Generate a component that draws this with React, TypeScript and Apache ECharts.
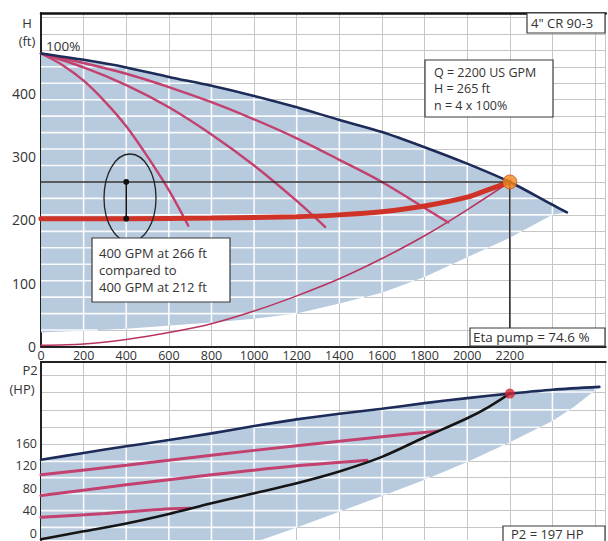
import React, { useEffect, useRef } from "react";
import * as echarts from "echarts";

const FONT = "'Open Sans', 'Noto Sans', sans-serif";
const TXT = "#333333";

// ---- axis ticks / grid values ----
const flowLabels = [0, 200, 400, 600, 800, 1000, 1200, 1400, 1600, 1800, 2000, 2200];
const flowGridLines = [200, 400, 600, 800, 1000, 1200, 1400, 1600, 1800, 2000, 2200, 2400, 2600];
const headLabels = [0, 100, 200, 300, 400];
const headGridLines = [26, 52, 78, 104, 130, 156, 182, 208, 234, 260, 286, 312, 338, 364, 390, 416, 442, 468, 494, 520];
const powerLabels = [0, 40, 80, 120, 160];
const powerGridLines = [10, 40, 70, 99, 128, 158, 189, 220, 252, 282];

// ---- top chart: head H (ft) vs flow Q (US GPM) ----
const pump1Head = [[0, 463], [100, 445], [200, 420], [300, 387], [400, 348], [500, 300], [600, 247], [691, 191]];
const pump2Head = [[0, 463], [200, 441], [400, 413], [600, 378], [800, 335], [1000, 286], [1200, 230], [1333, 189]];
const pump3Head = [[0, 463], [200, 448], [400, 431], [600, 410], [800, 386], [1000, 359], [1200, 329], [1400, 295], [1600, 260], [1800, 219], [1911, 196]];
const pump4Head = [[0, 463], [200, 453], [400, 441], [600, 426], [800, 412], [1000, 396], [1200, 378], [1400, 358], [1600, 339], [1800, 315], [2000, 289], [2200, 260], [2400, 224], [2468, 212]];
const controlHead = [[0, 202], [400, 202], [800, 203], [1200, 205], [1400, 208], [1600, 213], [1800, 222], [2000, 236], [2100, 248], [2200, 260]];
const systemHead = [[0, 2], [200, 4], [400, 11], [600, 22], [800, 36], [1000, 56], [1200, 80], [1400, 107], [1600, 139], [1800, 175], [2000, 216], [2200, 260]];
const shadeHeadLower = [[0, 22], [400, 28], [800, 38], [1000, 44], [1200, 52], [1400, 68], [1600, 85], [1800, 110], [2000, 141], [2200, 172], [2400, 208], [2468, 212]];
const dutyFlow = 2200;
const dutyHead = 260;
const compareFlow = 400;
const compareHeads = [260, 202];

// ---- bottom chart: power P2 (HP) vs flow ----
const pump4Power = [[0, 131], [200, 143], [400, 155], [600, 166], [800, 178], [1000, 191], [1200, 203], [1400, 213], [1600, 222], [1800, 232], [2000, 241], [2200, 249], [2400, 256], [2620, 261]];
const systemPower = [[0, -11], [200, 3], [400, 17], [600, 34], [800, 53], [1000, 71], [1200, 89], [1400, 110], [1600, 136], [1800, 171], [2000, 205], [2100, 225], [2200, 249]];
const pump3Power = [[0, 104], [400, 121], [800, 139], [1200, 156], [1600, 172], [1860, 182]];
const pump2Power = [[0, 67], [400, 86], [800, 104], [1200, 120], [1530, 130]];
const pump1Power = [[0, 28], [300, 35], [560, 42], [700, 44]];
const shadePowerLower = [[0, -13], [1030, -13], [1200, 10], [1400, 38], [1600, 66], [1800, 95], [2000, 127], [2200, 162], [2400, 200], [2500, 225], [2620, 261]];
const dutyPower = 249;

const SHADE = "#b8cadd";
const NAVY = "#1c2b57";
const PINK = "#c2416f";
const RED = "#cf3327";
const GRIDGRAY = "#c6c6c6";

function shadeRenderer(upper: number[][], lower: number[][], xg: number[], yg: number[]) {
  return (_params: any, api: any) => {
    const pts: number[][] = [
      ...upper.map((p) => api.coord(p)),
      ...lower.slice().reverse().map((p) => api.coord(p)),
    ];
    const n = pts.length;
    const children: any[] = [
      { type: "polygon", shape: { points: pts }, style: { fill: SHADE } },
    ];
    const xs = xg.map((v) => api.coord([v, 0])[0]);
    const ys = yg.map((v) => api.coord([0, v])[1]);
    for (const c of xs) {
      const hits: number[] = [];
      for (let i = 0; i < n; i++) {
        const [x1, y1] = pts[i];
        const [x2, y2] = pts[(i + 1) % n];
        if ((x1 <= c && c < x2) || (x2 <= c && c < x1)) hits.push(y1 + ((c - x1) * (y2 - y1)) / (x2 - x1));
      }
      hits.sort((a, b) => a - b);
      for (let k = 0; k + 1 < hits.length; k += 2)
        children.push({ type: "line", shape: { x1: c, y1: hits[k], x2: c, y2: hits[k + 1] }, style: { stroke: "#ffffff", lineWidth: 1.6, opacity: 0.9 } });
    }
    for (const c of ys) {
      const hits: number[] = [];
      for (let i = 0; i < n; i++) {
        const [x1, y1] = pts[i];
        const [x2, y2] = pts[(i + 1) % n];
        if ((y1 <= c && c < y2) || (y2 <= c && c < y1)) hits.push(x1 + ((c - y1) * (x2 - x1)) / (y2 - y1));
      }
      hits.sort((a, b) => a - b);
      for (let k = 0; k + 1 < hits.length; k += 2)
        children.push({ type: "line", shape: { x1: hits[k], y1: c, x2: hits[k + 1], y2: c }, style: { stroke: "#ffffff", lineWidth: 1.6, opacity: 0.9 } });
    }
    return { type: "group", children };
  };
}

function curve(data: number[][], xi: number, yi: number, color: string, width: number, z = 3, smooth: any = 0.3) {
  return {
    type: "line", xAxisIndex: xi, yAxisIndex: yi, data, symbol: "none", smooth,
    lineStyle: { color, width, cap: "round" }, z, silent: true,
  };
}

function box(x: number, y: number, w: number, h: number, lines: string, fs: number, tx: number, lh: number, ty?: number) {
  return [
    { type: "rect", z: 100, shape: { x, y, width: w, height: h }, style: { fill: "#ffffff", stroke: "#3a3a3a", lineWidth: 1.2 } },
    { type: "text", z: 101, x: x + tx, y: ty !== undefined ? ty : y + h / 2, style: { text: lines, fontSize: fs, fontFamily: FONT, fill: TXT, verticalAlign: "middle", lineHeight: lh } },
  ];
}

const XMAX = 2650;

const option: any = {
  animation: false,
  grid: [
    { left: 41, top: 13, width: 564.7, height: 333.5, show: false },
    { left: 41, top: 362, width: 564.7, height: 179, show: false },
  ],
  xAxis: [
    {
      gridIndex: 0, type: "value", min: 0, max: XMAX, interval: 200, position: "bottom",
      axisLine: { show: true, lineStyle: { color: "#222", width: 2 } },
      axisTick: { show: false },
      axisLabel: { customValues: flowLabels, formatter: (v: number) => String(v), fontSize: 12.5, fontFamily: FONT, color: TXT, margin: 2 },
      splitLine: { show: true, lineStyle: { color: GRIDGRAY, width: 1 } },
    },
    {
      gridIndex: 0, type: "value", min: 0, max: XMAX, position: "top",
      axisLine: { show: true, lineStyle: { color: "#111", width: 2.5 } },
      axisTick: { show: false }, axisLabel: { show: false }, splitLine: { show: false },
    },
    {
      gridIndex: 1, type: "value", min: 0, max: XMAX, interval: 200, position: "bottom",
      axisLine: { show: false }, axisTick: { show: false }, axisLabel: { show: false },
      splitLine: { show: true, lineStyle: { color: GRIDGRAY, width: 1 } },
    },
    {
      gridIndex: 1, type: "value", min: 0, max: XMAX, position: "top",
      axisLine: { show: true, lineStyle: { color: "#222", width: 2 } },
      axisTick: { show: false }, axisLabel: { show: false }, splitLine: { show: false },
    },
  ],
  yAxis: [
    {
      gridIndex: 0, type: "value", min: 0, max: 527,
      axisLine: { show: true, lineStyle: { color: "#222", width: 2 } },
      axisTick: { show: false, customValues: headGridLines },
      axisLabel: { customValues: headLabels, fontSize: 14, fontFamily: FONT, color: TXT, margin: 5 },
      splitLine: { show: true, lineStyle: { color: GRIDGRAY, width: 1 } },
    },
    {
      gridIndex: 1, type: "value", min: -12.43, max: 305.5,
      axisLine: { show: true, lineStyle: { color: "#222", width: 2 } },
      axisTick: { show: false, customValues: powerGridLines },
      axisLabel: { customValues: powerLabels, fontSize: 12.5, fontFamily: FONT, color: TXT, margin: 4, lineHeight: 13, padding: [0, 0, 3, 0] },
      splitLine: { show: true, lineStyle: { color: GRIDGRAY, width: 1 } },
    },
  ],
  series: [
    {
      type: "custom", xAxisIndex: 0, yAxisIndex: 0, data: [[0, 0]], clip: true, silent: true, z: 1,
      renderItem: shadeRenderer(pump4Head, shadeHeadLower, flowGridLines, headGridLines),
    },
    curve(systemHead, 0, 0, "#b8345e", 1.6, 3),
    curve(pump1Head, 0, 0, PINK, 2.4, 3),
    curve(pump2Head, 0, 0, PINK, 2.4, 3),
    curve(pump3Head, 0, 0, PINK, 2.4, 3),
    curve(controlHead, 0, 0, RED, 5, 4),
    curve(pump4Head, 0, 0, NAVY, 2.6, 5),
    {
      type: "line", xAxisIndex: 0, yAxisIndex: 0, symbol: "none", silent: true, z: 6,
      data: [[0, dutyHead], [dutyFlow, dutyHead], [dutyFlow, 0]],
      lineStyle: { color: "#2b2b2b", width: 1.5 },
    },
    {
      type: "line", xAxisIndex: 0, yAxisIndex: 0, symbol: "circle", symbolSize: 6, showSymbol: true, silent: true, z: 7,
      data: compareHeads.map((h) => [compareFlow, h]),
      lineStyle: { color: "#111", width: 1.5 }, itemStyle: { color: "#111" },
    },
    {
      type: "scatter", xAxisIndex: 0, yAxisIndex: 0, symbolSize: 14, silent: true, z: 8,
      data: [[dutyFlow, dutyHead]],
      itemStyle: { color: "#f28a1e", borderColor: "#c8501a", borderWidth: 1 },
    },
    {
      type: "custom", xAxisIndex: 2, yAxisIndex: 1, data: [[0, 0]], clip: true, silent: true, z: 1,
      renderItem: shadeRenderer(pump4Power, shadePowerLower, flowGridLines, powerGridLines),
    },
    curve(pump1Power, 2, 1, PINK, 3, 3),
    curve(pump2Power, 2, 1, PINK, 3, 3),
    curve(pump3Power, 2, 1, PINK, 3, 3),
    curve(pump4Power, 2, 1, NAVY, 2.6, 5),
    curve(systemPower, 2, 1, "#151515", 2.6, 5),
    {
      type: "scatter", xAxisIndex: 2, yAxisIndex: 1, symbolSize: 10, silent: true, z: 8,
      data: [[dutyFlow, dutyPower]],
      itemStyle: { color: "#d0283a" },
    },
  ],
  graphic: [
    { type: "text", z: 101, x: 27, y: 23, style: { text: "H", fontSize: 13, fontFamily: FONT, fill: TXT, align: "center", verticalAlign: "middle" } },
    { type: "text", z: 101, x: 27, y: 41, style: { text: "(ft)", fontSize: 13, fontFamily: FONT, fill: TXT, align: "center", verticalAlign: "middle" } },
    { type: "text", z: 101, x: 30, y: 370, style: { text: "P2", fontSize: 13, fontFamily: FONT, fill: TXT, align: "center", verticalAlign: "middle" } },
    { type: "text", z: 101, x: 22, y: 389, style: { text: "(HP)", fontSize: 13, fontFamily: FONT, fill: TXT, align: "center", verticalAlign: "middle" } },
    { type: "text", z: 101, x: 46, y: 46, style: { text: "100%", fontSize: 13.5, fontFamily: FONT, fill: TXT, verticalAlign: "middle" } },
    { type: "ellipse", z: 100, shape: { cx: 130, cy: 198, rx: 26, ry: 44 }, style: { fill: "none", stroke: "#222", lineWidth: 1.3 } },
    ...box(527, 13, 78, 20, '4" CR 90-3', 13, 4, 16),
    ...box(425, 60, 128, 57, "Q = 2200 US GPM\nH = 265 ft\nn = 4 x 100%", 12.5, 9, 16.5),
    ...box(92, 238, 138, 64, "400 GPM at 266 ft\ncompared to\n400 GPM at 212 ft", 13, 7, 17),
    ...box(470, 328, 135, 18, "Eta pump = 74.6 %", 13.5, 3, 16),
    ...box(503, 526, 102, 20, "P2 = 197 HP", 13, 8, 15, 533.5),
  ],
};

export default function App() {
  const ref = useRef<HTMLDivElement>(null);
  useEffect(() => {
    const chart = echarts.init(ref.current!, null, { renderer: "svg" });
    chart.setOption(option);
    return () => chart.dispose();
  }, []);
  return <div ref={ref} style={{ position: "absolute", left: 0, top: 0, width: 608, height: 541, background: "#fff" }} />;
}
